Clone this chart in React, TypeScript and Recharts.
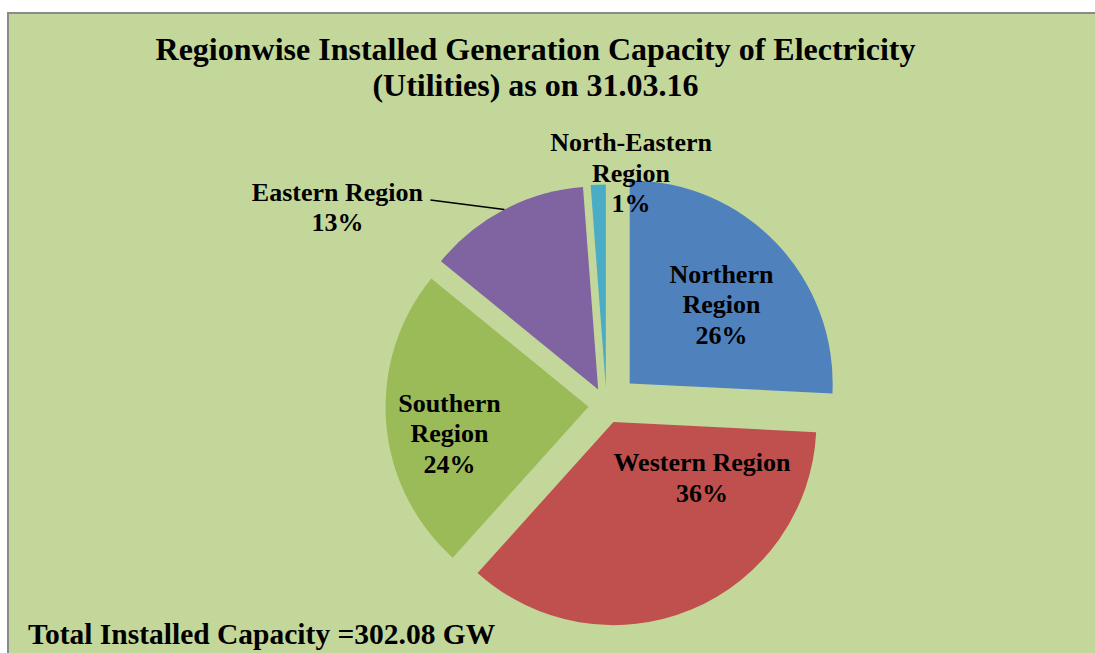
import React from 'react';
import { PieChart, Pie, Cell, Sector } from 'recharts';

// ---------- data ----------
const REGIONS = [
  'Northern Region',
  'Western Region',
  'Southern Region',
  'Eastern Region',
  'North-Eastern Region',
];
const CAPACITY_GW = [77.9, 108.4, 73.2, 39.0, 3.6];
const COLORS = ['#4F81BD', '#C0504D', '#9BBB59', '#8064A2', '#4BACC6'];
const TITLE_LINES = [
  'Regionwise Installed Generation Capacity of Electricity',
  '(Utilities) as on 31.03.16',
];
const FOOTNOTE = 'Total Installed Capacity =302.08 GW';

const data = REGIONS.map((name, i) => ({ name, value: CAPACITY_GW[i] }));

// ---------- layout ----------
const RAD = Math.PI / 180;
const FONT = "'Liberation Serif', 'Times New Roman', serif";
const EXPLODE = [32, 18, 18, 18, 18];
const WRAP = [true, false, true, false, true];
// label block centre, relative to the exploded slice apex: distance (px), clockwise angle from 12 o'clock
const LABEL_POS = [
  { dist: 121, theta: 49.3 },
  { dist: 104.6, theta: 122.1 },
  { dist: 141.6, theta: 259.1 },
  { dist: 318.3, theta: 305 },
  { dist: 216.3, theta: 6.7 },
];
const LEADER = [null, null, null, { dx: 93, dy: -7 }, null];
const LABEL_FS = 26;
const LABEL_LH = 30.5;

const renderShape = (props: any) => {
  const { cx, cy, midAngle, index } = props;
  const e = EXPLODE[index] || 0;
  const nx = cx + e * Math.cos(-midAngle * RAD);
  const ny = cy + e * Math.sin(-midAngle * RAD);
  return <Sector {...props} cx={nx} cy={ny} stroke="none" />;
};

const renderLabel = (props: any) => {
  const { cx, cy, midAngle, outerRadius, percent, index, name } = props;
  const e = EXPLODE[index] || 0;
  const ax = cx + e * Math.cos(-midAngle * RAD);
  const ay = cy + e * Math.sin(-midAngle * RAD);
  const L = LABEL_POS[index];
  const a = (90 - L.theta) * RAD;
  const lx = ax + L.dist * Math.cos(a);
  const ly = ay - L.dist * Math.sin(a);
  const lines = [...(WRAP[index] ? String(name).split(' ') : [String(name)]), `${Math.round(percent * 100)}%`];
  const n = lines.length;
  const ld = LEADER[index];
  let leader = null;
  if (ld) {
    const px = ax + outerRadius * Math.cos(-midAngle * RAD);
    const py = ay + outerRadius * Math.sin(-midAngle * RAD);
    leader = <line x1={lx + ld.dx} y1={ly + ld.dy} x2={px} y2={py} stroke="#000" strokeWidth={1.5} />;
  }
  return (
    <g>
      {leader}
      <text textAnchor="middle" fontFamily={FONT} fontWeight="bold" fontSize={LABEL_FS} fill="#000">
        {lines.map((t, i) => (
          <tspan key={i} x={lx} y={ly + (i - (n - 1) / 2) * LABEL_LH + 0.34 * LABEL_FS}>
            {t}
          </tspan>
        ))}
      </text>
    </g>
  );
};

export default function App() {
  return (
    <div style={{ position: 'absolute', left: 0, top: 0, width: 1095, height: 653, overflow: 'hidden', background: '#fff' }}>
      <div
        style={{
          position: 'absolute',
          left: 7,
          top: 12,
          width: 1200,
          height: 800,
          background: '#C4D79B',
          borderTop: '2px solid #8a8a8a',
          borderLeft: '2px solid #8a8a8a',
          boxSizing: 'border-box',
        }}
      />
      <div
        style={{
          position: 'absolute',
          left: 0,
          top: 30.9,
          width: 1071,
          textAlign: 'center',
          fontFamily: FONT,
          fontWeight: 'bold',
          fontSize: 32,
          lineHeight: '36.5px',
          color: '#000',
          whiteSpace: 'nowrap',
        }}
      >
        {TITLE_LINES.map((t, i) => (
          <div key={i}>{t}</div>
        ))}
      </div>
      <div
        style={{
          position: 'absolute',
          left: 28,
          top: 620.3,
          fontFamily: FONT,
          fontWeight: 'bold',
          fontSize: 29.5,
          lineHeight: '29.5px',
          color: '#000',
          whiteSpace: 'nowrap',
        }}
      >
        {FOOTNOTE}
      </div>
      <div style={{ position: 'absolute', left: 0, top: 0 }}>
        <PieChart width={1095} height={653} margin={{ top: 0, right: 0, bottom: 0, left: 0 }}>
          <Pie
            data={data}
            dataKey="value"
            nameKey="name"
            cx={606.5}
            cy={405.5}
            outerRadius={203}
            startAngle={90}
            endAngle={-270}
            stroke="none"
            isAnimationActive={false}
            labelLine={false}
            label={renderLabel}
            shape={renderShape}
          >
            {data.map((d, i) => (
              <Cell key={d.name} fill={COLORS[i]} />
            ))}
          </Pie>
        </PieChart>
      </div>
    </div>
  );
}
